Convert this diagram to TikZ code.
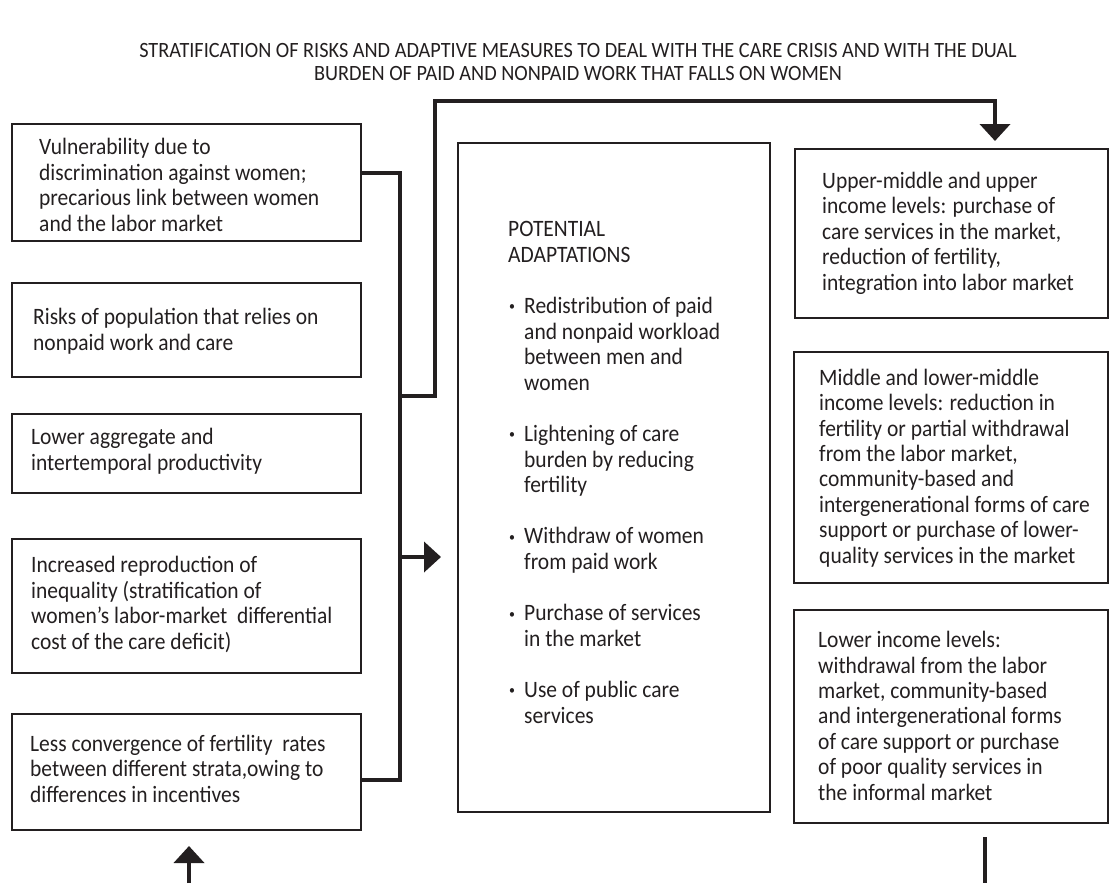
\documentclass[tikz,border=0pt]{standalone}
\usepackage{fontspec}
\setmainfont{Carlito}[FakeStretch=0.915]
\newfontfamily\titlefont{Carlito}[FakeStretch=0.93]
\usetikzlibrary{arrows.meta}
\definecolor{ink}{HTML}{231F20}
\newcommand\bl{\makebox[16pt][l]{\hspace{1pt}\raisebox{2.5pt}{\fontsize{13}{13}\selectfont\textbullet}}}
\newcommand\ind{\hspace*{16pt}}
\begin{document}
\begin{tikzpicture}[x=1pt,y=-1pt,
  box/.style={draw=ink,line width=2pt,anchor=north west,inner sep=0pt,outer sep=0pt},
  rbox/.style={box,line width=2.5pt},
  txt/.style={anchor=base west,inner sep=0pt,align=left,text=ink,font=\fontsize{23.5}{25.4}\selectfont},
  ttl/.style={anchor=base,inner sep=0pt,align=center,text=ink,font=\titlefont\fontsize{21.8}{24}\selectfont},
  bus/.style={draw=ink,line width=4pt},
  tip/.style={-{Triangle[length=17pt,width=30pt]}}]
\useasboundingbox (0,0) rectangle (1110,883);

% title (base anchor = last line's baseline)
\node[ttl] (title) at (578,81) {STRATIFICATION OF RISKS AND ADAPTIVE MEASURES TO DEAL WITH THE CARE CRISIS AND WITH THE DUAL\\BURDEN OF PAID AND NONPAID WORK THAT FALLS ON WOMEN};

% left boxes
\node[box,minimum width=349pt,minimum height=117pt] (L1) at (12,124) {};
\node[box,minimum width=349pt,minimum height=94pt]  (L2) at (12,283) {};
\node[box,minimum width=349pt,minimum height=79pt]  (L3) at (12,414) {};
\node[box,minimum width=349pt,minimum height=134pt] (L4) at (12,539) {};
\node[box,minimum width=349pt,minimum height=116pt] (L5) at (12,714) {};

\node[txt] (L1t) at (39,231) {Vulnerability due to\\discrimination against women;\\precarious link between women\\and the labor market};
\node[txt] (L2t) at (33,350) {Risks of population that relies on\\nonpaid work and care};
\node[txt] (L3t) at (31,470) {Lower aggregate and\\intertemporal productivity};
\node[txt] (L4t) at (31,649) {Increased reproduction of\\inequality (stratification of\\women’s labor-market~ differential\\cost of the care deficit)};
\node[txt] (L5t) at (30,802) {Less convergence of fertility~ rates\\between different strata,owing to\\differences in incentives};

% middle box
\node[rbox,minimum width=312pt,minimum height=669pt] (M) at (458,143) {};
\node[txt,font=\fontsize{23.5}{25.6}\selectfont] (Mt) at (508,723) {POTENTIAL\\ADAPTATIONS\\[25.6pt]
\bl Redistribution of paid\\\ind and nonpaid workload\\\ind between men and\\\ind women\\[25.6pt]
\bl Lightening of care\\\ind burden by reducing\\\ind fertility\\[25.6pt]
\bl Withdraw of women\\\ind from paid work\\[25.6pt]
\bl Purchase of services\\\ind in the market\\[25.6pt]
\bl Use of public care\\\ind services};

% right boxes
\node[rbox,minimum width=313pt,minimum height=169pt] (R1) at (795,149) {};
\node[rbox,minimum width=314pt,minimum height=231pt] (R2) at (794,352) {};
\node[rbox,minimum width=314pt,minimum height=213pt] (R3) at (794,610) {};

\node[txt] (R1t) at (822,290) {Upper-middle and upper\\income levels: purchase of\\care services in the market,\\reduction of fertility,\\integration into labor market};
\node[txt] (R2t) at (819,563) {Middle and lower-middle\\income levels: reduction in\\fertility or partial withdrawal\\from the labor market,\\community-based and\\intergenerational forms of care\\support or purchase of lower-\\quality services in the market};
\node[txt] (R3t) at (818,800) {Lower income levels:\\withdrawal from the labor\\market, community-based\\and intergenerational forms\\of care support or purchase\\of poor quality services in\\the informal market};

% connectors
\coordinate (b1) at (400,173);
\coordinate (b5) at (400,780);
\draw[bus] (L1.east |- b1) -- (b1) -- (b5) -- (L5.east |- b5);

\coordinate (t0) at (400,396);
\coordinate (t1) at (435,396);
\coordinate (t2) at (435,101);
\coordinate (t3) at (995,101);
\coordinate (t4) at (995,141);
\draw[bus,tip] (t0) -- (t1) -- (t2) -- (t3) -- (t4);

\coordinate (a0) at (400,557);
\coordinate (a1) at (441,557);
\draw[bus,tip] (a0) -- (a1);

\coordinate (u0) at (189,883);
\coordinate (u1) at (189,846);
\draw[bus,tip] (u0) -- (u1);

\coordinate (d0) at (985,837);
\coordinate (d1) at (985,883);
\draw[bus] (d0) -- (d1);
\end{tikzpicture}
\end{document}
